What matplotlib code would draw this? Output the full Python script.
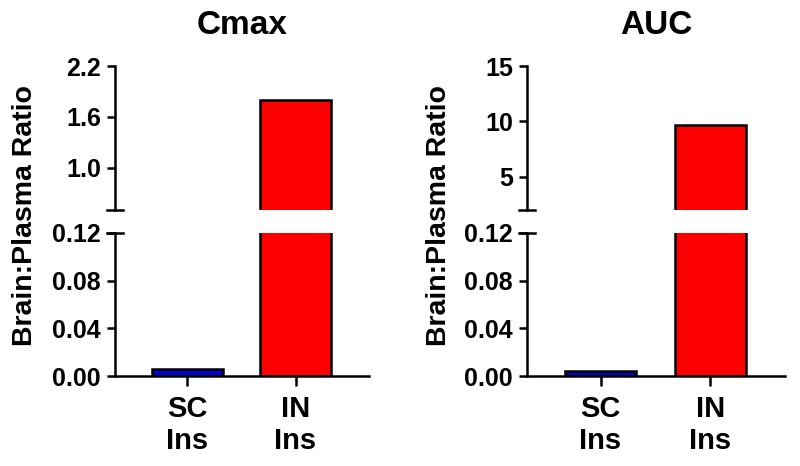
import matplotlib
matplotlib.use('Agg')
import matplotlib.pyplot as plt

plt.rcParams['font.family'] = ['Liberation Sans', 'DejaVu Sans']
plt.rcParams['font.weight'] = 'bold'

groups = ['SC\nIns', 'IN\nIns']
bar_colors = ['#0000CC', '#FF0000']

cmax_values = [0.006, 1.80]
auc_values = [0.004, 9.65]

cmax_top_lim = (0.5, 2.2)
cmax_top_ticks = [1.0, 1.6, 2.2]
auc_top_lim = (2.0, 15.0)
auc_top_ticks = [5, 10, 15]
bottom_lim = (0.0, 0.12)
bottom_ticks = [0.00, 0.04, 0.08, 0.12]

W, H = 800, 466
fig = plt.figure(figsize=(W / 100, H / 100), dpi=100)


def px_axes(x0, x1, ytop, ybot):
    return fig.add_axes([x0 / W, (H - ybot) / H, (x1 - x0) / W, (ybot - ytop) / H])


def style(ax):
    for s in ['top', 'right']:
        ax.spines[s].set_visible(False)
    for s in ['left', 'bottom']:
        ax.spines[s].set_linewidth(1.8)
    ax.tick_params(width=1.8, length=6, labelsize=18, pad=4)
    ax.tick_params(axis='x', length=7, pad=7)


def panel(x0, x1, title, values, top_lim, top_ticks, top_fmt):
    xs = range(len(values))
    ax_t = px_axes(x0, x1, 66, 210)
    ax_b = px_axes(x0, x1, 233, 376)
    for ax in (ax_t, ax_b):
        ax.bar(xs, values, width=0.65, color=bar_colors, edgecolor='black', linewidth=1.8)
        ax.set_xlim(-0.67, 1.68)
        style(ax)

    ax_t.set_ylim(*top_lim)
    ax_t.set_yticks(top_ticks)
    ax_t.set_yticklabels([top_fmt.format(v) for v in top_ticks], fontweight='bold')
    ax_t.spines['bottom'].set_visible(False)
    ax_t.set_xticks([])

    ax_b.set_ylim(*bottom_lim)
    ax_b.set_yticks(bottom_ticks)
    ax_b.set_yticklabels(['{:.2f}'.format(v) for v in bottom_ticks], fontweight='bold')
    ax_b.set_xticks(list(xs))
    ax_b.set_xticklabels(groups, fontsize=21, fontweight='bold', linespacing=1.15)

    # break marks
    d = 0.03
    ax_t.plot([-d, d], [0, 0], color='black', lw=1.8, transform=ax_t.transAxes, clip_on=False)
    ax_b.plot([-d, d], [1, 1], color='black', lw=1.8, transform=ax_b.transAxes, clip_on=False)

    fig.text((x0 + x1) / 2 / W, 1 - 26 / H, title, ha='center', va='center',
             fontsize=24, fontweight='bold')


panel(115, 369, 'Cmax', cmax_values, cmax_top_lim, cmax_top_ticks, '{:.1f}')
panel(527, 785, 'AUC', auc_values, auc_top_lim, auc_top_ticks, '{:d}')

fig.text(25 / W, 1 - 216 / H, 'Brain:Plasma Ratio', rotation=90, ha='center', va='center',
         fontsize=20.5, fontweight='bold')
fig.text(439 / W, 1 - 216 / H, 'Brain:Plasma Ratio', rotation=90, ha='center', va='center',
         fontsize=20.5, fontweight='bold')

fig.savefig('out.png', dpi=100)
